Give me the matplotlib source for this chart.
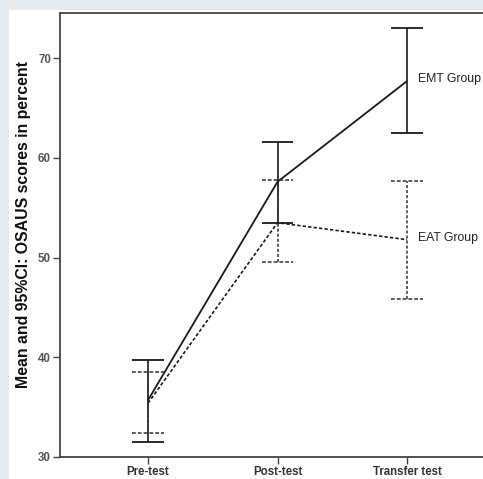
import matplotlib
matplotlib.use("Agg")
import matplotlib.pyplot as plt
from matplotlib.patches import Rectangle

categories = ["Pre-test", "Post-test", "Transfer test"]
emt_mean = [35.7, 57.6, 67.7]
emt_low = [31.5, 53.5, 62.5]
emt_high = [39.7, 61.6, 73.0]
eat_mean = [35.4, 53.5, 51.8]
eat_low = [32.4, 49.6, 45.8]
eat_high = [38.5, 57.8, 57.7]
y_ticks = [30, 40, 50, 60, 70]

W, H = 483, 479
fig = plt.figure(figsize=(W / 100, H / 100), dpi=100)
fig.patch.set_facecolor("#e6ebf1")
fig.add_artist(Rectangle((9 / W, 0), 1, 1 - 10 / H, transform=fig.transFigure,
                         facecolor="white", edgecolor="none", zorder=-10))

left, right, top, bottom = 60, 483, 13, 457
ax = fig.add_axes([left / W, 1 - bottom / H, (right - left) / W, (bottom - top) / H])
ax.set_zorder(5)
ax.set_facecolor("white")

x = list(range(len(categories)))
px_per_cat = 129.5
ax.set_xlim(-(148 - left) / px_per_cat, 2 + (right - 407) / px_per_cat)
ax.set_ylim(30, 30 + (bottom - top) / 9.97)

lc = "#1a1a1a"
dash = (0, (2.0, 1.3))
ax.plot(x, emt_mean, color=lc, lw=1.3, solid_capstyle="butt")
ax.plot(x, eat_mean, color=lc, lw=1.2, linestyle=dash)

cap = 0.12
for i in x:
    # EMT solid error bars
    ax.vlines(i, emt_low[i], emt_high[i], color=lc, lw=1.2)
    ax.hlines([emt_low[i], emt_high[i]], i - cap, i + cap, color=lc, lw=1.3)
    # EAT dashed error bars
    ax.vlines(i, eat_low[i], eat_high[i], color="#333333", lw=1.1, linestyle=dash)
    ax.hlines([eat_low[i], eat_high[i]], i - cap, i + cap, color="#333333", lw=1.1,
              linestyle=(0, (2.5, 1.3)))

ax.text(2 + 11 / px_per_cat, emt_mean[2] + 0.25, "EMT Group", fontsize=8.8,
        family="Liberation Sans", color="#222222", va="center", ha="left")
ax.text(2 + 11 / px_per_cat, eat_mean[2] + 0.2, "EAT Group", fontsize=8.8,
        family="Liberation Sans", color="#222222", va="center", ha="left")

ax.set_xticks(x)
ax.set_xticklabels(categories, fontsize=8.3, fontweight="bold", family="Liberation Sans",
                   color="#333333")
ax.set_yticks(y_ticks)
ax.set_yticklabels([str(v) for v in y_ticks], fontsize=8.3, fontweight="bold",
                   family="Liberation Sans", color="#555555")
ax.tick_params(axis="both", direction="out", length=5, width=1, color="#444444", pad=1.5)
ax.set_ylabel("Mean and 95%CI: OSAUS scores in percent", fontsize=11.4, fontweight="bold",
              family="Liberation Sans", color="#111111")
ax.yaxis.set_label_coords(-(60 - 31) / (right - left), (bottom - 225) / (bottom - top))

for s in ["left", "top", "bottom"]:
    ax.spines[s].set_color("#444444")
    ax.spines[s].set_linewidth(1.3)
ax.spines["right"].set_visible(False)

fig.savefig("out.png", dpi=100, facecolor=fig.get_facecolor())
